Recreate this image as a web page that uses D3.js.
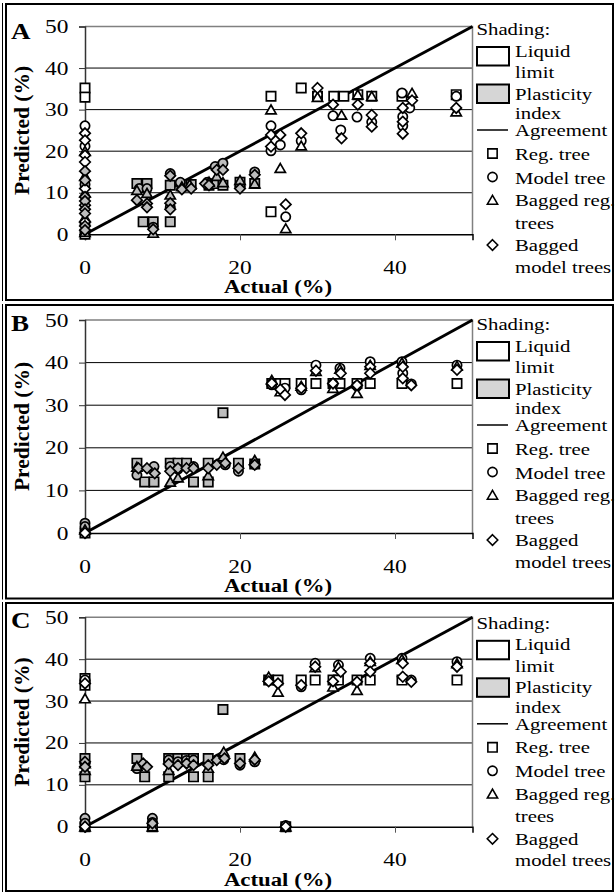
<!DOCTYPE html>
<html>
<head>
<meta charset="utf-8">
<script src="https://cdn.jsdelivr.net/npm/d3@7"></script>
<style>
  body { margin: 0; background: #fff; }
  svg { display: block; }
  text { font-family: "Liberation Serif", "Times New Roman", serif; fill: #000; }
</style>
</head>
<body>
<svg id="chart" width="616" height="894"></svg>
<script>
// rows are [actual, predicted, method]; s = reg. tree, c = model tree,
// t = bagged reg. trees, d = bagged model trees
const methods = ['s', 'c', 't', 'd'];
const xTicks = [0, 20, 40];
const yTicks = [0, 10, 20, 30, 40, 50];
const panelLabels = ['A', 'B', 'C'];
const legendText = ['Shading:', 'Liquid', 'limit', 'Plasticity', 'index', 'Agreement',
  'Reg. tree', 'Model tree', 'Bagged reg.', 'trees', 'Bagged', 'model trees'];

// panel A: liquid limit (white) and plasticity index (grey)
const llA = [
  [0, 35.2, 's'], [0, 33.0, 's'], [0, 0, 's'],
  [0, 26.1, 'c'], [0, 24.3, 'd'], [0, 22.6, 'd'], [0, 21.2, 'c'], [0, 20.0, 't'], [0, 19.0, 'd'], [0, 17.4, 'd'],
  [0, 11.0, 'd'], [0, 7.0, 'd'], [0, 3.0, 'd'],
  [24, 33.2, 's'], [24, 30, 't'], [24, 26.1, 'c'], [24, 23.9, 'd'], [24, 21.1, 'd'], [24, 20.1, 'c'], [24, 5.4, 's'],
  [25.2, 23.9, 'd'], [25.2, 21.5, 'c'], [25.2, 15.9, 't'],
  [25.9, 7.2, 'd'], [25.9, 4.2, 'c'], [25.9, 1.4, 't'],
  [27.9, 35.2, 's'], [27.9, 24.3, 'd'], [27.9, 22.5, 'c'], [27.9, 21.3, 't'],
  [30, 33.2, 's'], [30, 33.6, 'c'], [30, 33, 't'], [30, 35.2, 'd'],
  [32.1, 33.2, 's'], [33.4, 33.2, 's'], [32, 31.2, 'd'], [32, 28.5, 'c'], [33.1, 28.7, 't'], [33, 25.1, 'c'], [33.1, 23.1, 'd'],
  [35.2, 33.6, 's'], [35.2, 33.6, 't'], [35.2, 31.2, 'd'], [35.1, 28.2, 'c'],
  [37, 33.2, 's'], [37, 33.2, 't'], [37, 27, 'c'], [37, 28.7, 'd'], [37, 25.9, 'd'],
  [40.9, 34, 'c'], [40.9, 33.2, 's'], [41, 30.4, 'd'], [41, 28.3, 'c'], [41, 27.1, 'd'], [41, 26.1, 'c'], [41, 24.2, 'd'],
  [42.2, 34, 't'], [42.2, 32.2, 'd'], [41.9, 30.4, 'c'],
  [47.9, 33.6, 's'], [47.9, 33.2, 'c'], [47.9, 30.4, 'd'], [47.9, 29.5, 't']
];
const piA = [
  [0, 15.2, 'd'], [0, 14.0, 't'], [0, 13.0, 'd'], [0, 12.0, 'c'], [0, 10.0, 't'], [0, 9.0, 'd'],
  [0, 8.0, 'd'], [0, 6.0, 'd'], [0, 5.0, 'd'], [0, 4.0, 't'], [0, 2.5, 'c'], [0, 2.0, 'd'], [0, 1.0, 'd'], [0, 0.5, 't'],
  [6.7, 12.2, 's'], [6.7, 10.6, 't'], [6.7, 8.2, 'd'], [7.0, 11.0, 'c'],
  [8, 12.2, 's'], [8, 11, 'c'], [8, 7.4, 'd'], [8, 6.5, 'd'], [8, 9.9, 't'],
  [7.5, 3.0, 's'], [8.8, 3.0, 's'], [8.8, 1.7, 'c'], [8.8, 1.2, 'd'], [8.8, 0.3, 't'],
  [11, 3.0, 's'], [11, 14.6, 'c'], [11, 14.1, 'd'], [11, 11.8, 's'], [11, 9.5, 't'], [11, 7.5, 'd'], [11, 6.0, 'd'], [11, 6.5, 'c'],
  [12.5, 12, 's'], [12.5, 10.8, 'd'], [12.5, 11.5, 't'], [12.3, 12.5, 'c'],
  [13.7, 12, 's'], [13.7, 11, 'd'], [13.5, 12, 't'],
  [15.5, 12.2, 'd'], [16, 11.8, 's'], [16, 12.6, 't'], [16, 11.8, 'd'], [15.8, 12.5, 'c'],
  [16.8, 16.3, 'c'], [17, 15.5, 'd'], [17, 14, 't'], [17, 12.2, 's'],
  [17.8, 17.1, 'c'], [17.8, 15.5, 'd'], [17.8, 12.5, 't'], [17.8, 11.8, 's'],
  [20, 13, 't'], [20, 11, 'd'], [20, 12.5, 's'], [20, 11.5, 'c'],
  [21.9, 15, 'c'], [21.9, 14.3, 'd'], [21.9, 12.2, 't'], [21.9, 12.2, 's']
];

// panel B
const llB = [
  [0, 0, 'd'],
  [24.1, 35.1, 's'], [24.1, 34.8, 'c'], [24.1, 35.9, 't'], [24.1, 35.1, 'd'],
  [25.2, 35.1, 's'], [25.2, 33.2, 't'], [25.2, 33.7, 'd'],
  [25.8, 35.1, 's'], [25.8, 34, 'c'], [25.8, 32.4, 'd'],
  [27.9, 35.1, 's'], [27.9, 33.6, 'c'], [27.9, 34.5, 't'], [27.9, 34, 'd'],
  [29.8, 35.1, 's'], [29.8, 39.4, 'c'], [29.8, 38, 't'], [29.8, 38.1, 'd'],
  [32, 35.1, 's'], [32, 35, 'c'], [32, 34, 't'], [32, 35.1, 'd'],
  [32.9, 35.1, 's'], [32.9, 38.7, 'c'], [32.9, 38.5, 't'], [33, 37.5, 'd'],
  [35.1, 35.1, 's'], [35.1, 34.5, 'c'], [35.1, 32.8, 't'], [35.1, 34.7, 'd'],
  [36.8, 35.1, 's'], [36.8, 40.2, 'c'], [36.8, 39.4, 't'], [36.8, 39, 'd'], [36.8, 37.5, 'd'],
  [40.9, 35.1, 's'], [40.9, 40.2, 'c'], [41, 37.5, 'c'], [40.9, 40, 't'], [41, 39, 'd'], [41, 36.3, 'd'],
  [42.1, 35, 'c'], [42.1, 34.7, 'd'],
  [48, 35.1, 's'], [48, 39.4, 'c'], [48, 39.2, 't'], [48, 38.3, 'd']
];
const piB = [
  [0, 0, 's'], [0, 2.3, 'c'], [0, 1.5, 'c'], [0, 0.8, 't'],
  [6.7, 16.4, 's'], [6.7, 13.6, 'c'], [6.7, 15.5, 't'], [6.9, 15.2, 'd'],
  [7.7, 12, 's'], [8, 15.2, 'd'],
  [8.9, 12, 's'], [8.9, 15.6, 'c'], [9, 14, 'd'],
  [11, 16.4, 's'], [11, 15.6, 'c'], [11, 12, 't'], [11, 14.5, 'd'],
  [12, 16.4, 's'], [12, 15, 'c'], [12, 13, 't'], [12, 15.2, 'd'],
  [13.1, 16.4, 's'], [13.1, 15.2, 'd'],
  [14, 12, 's'], [14, 15.6, 'c'], [14, 15.2, 'd'],
  [15.9, 12, 's'], [15.9, 16.4, 's'], [15.9, 13.5, 't'], [15.9, 15.2, 'd'],
  [17, 16, 'd'],
  [17.8, 28.2, 's'], [17.8, 17.9, 't'], [18.1, 16, 'c'], [18.1, 16.4, 'd'],
  [19.8, 16.4, 's'], [19.8, 14.5, 'c'], [19.8, 15.2, 'd'],
  [21.9, 16.2, 's'], [21.9, 16.1, 'c'], [21.9, 17.1, 't'], [21.9, 16, 'd']
];

// panel C
const llC = [
  [0, 35.4, 's'], [0, 33.8, 's'], [0, 35, 'c'], [0, 30.6, 't'], [0, 34.2, 'd'], [0, 0, 'd'],
  [23.7, 35, 's'], [23.7, 35, 'c'], [23.7, 35.8, 't'], [23.7, 34.7, 'd'],
  [24.9, 35, 's'], [24.9, 32.2, 't'], [24.9, 34.2, 'd'],
  [25.9, 0, 's'], [25.9, 0.3, 'c'], [25.9, 0, 't'], [25.9, 0, 'd'],
  [27.9, 35, 's'], [27.9, 33.4, 'c'], [27.9, 33.8, 'd'],
  [29.7, 35, 's'], [29.7, 39, 'c'], [29.7, 38, 't'], [29.7, 38.2, 'd'],
  [32, 35, 's'], [32, 33.4, 't'], [32, 34.7, 'd'],
  [32.7, 35, 's'], [32.7, 38.6, 'c'], [32.7, 38.2, 't'], [33, 37, 'd'],
  [35.1, 35, 's'], [35.1, 32.6, 't'], [35.1, 34.6, 'd'],
  [36.8, 35, 's'], [36.8, 40.2, 'c'], [36.8, 39.5, 't'], [36.8, 39, 'd'], [36.8, 37, 'd'],
  [40.9, 35, 's'], [40.9, 40.2, 'c'], [40.9, 40, 't'], [41, 39, 'd'], [41, 35.8, 'd'],
  [42.1, 35, 'c'], [42.1, 34.6, 'd'],
  [48, 35, 's'], [48, 39.4, 'c'], [48, 39, 't'], [48, 38.2, 'd']
];
const piC = [
  [0, 16.3, 's'], [0, 11.9, 's'], [0, 0, 's'], [0, 15, 'c'], [0, 2, 'c'], [0, 0.8, 'c'],
  [0, 15.1, 't'], [0, 13.5, 't'], [0, 0, 't'], [0, 15.5, 'd'], [0, 14.3, 'd'],
  [6.7, 16.3, 's'], [6.7, 13.9, 'c'], [6.7, 14.5, 't'], [7.5, 15.1, 'd'],
  [7.7, 11.9, 's'], [8, 14.3, 'd'],
  [8.7, 0, 's'], [8.7, 2, 'c'], [8.7, 1, 'c'], [8.7, 0, 't'], [8.7, 0.8, 'd'],
  [10.8, 16.3, 's'], [10.8, 11.9, 's'], [10.8, 15.9, 'c'], [10.8, 13.5, 't'], [10.8, 15, 'd'],
  [12, 16.3, 's'], [12, 15.5, 'c'], [12, 14.7, 'd'],
  [13.1, 16.3, 's'], [13.1, 15.8, 'c'], [13.1, 15.1, 'd'],
  [14, 16.3, 's'], [14, 11.9, 's'], [14, 15.9, 'c'], [14, 14.7, 'd'],
  [15.9, 16.3, 's'], [15.9, 11.9, 's'], [15.9, 14, 't'], [15.9, 14.7, 'd'],
  [17, 15.9, 'd'],
  [17.8, 28, 's'], [17.9, 17.9, 't'], [17.9, 16, 'c'], [18, 16.3, 'd'],
  [20, 16.3, 's'], [20, 14.7, 'c'], [20, 15.1, 'd'],
  [21.9, 15.5, 'c'], [21.9, 16.7, 't'], [21.9, 16, 'd']
];

const panelData = [[llA, piA], [llB, piB], [llC, piC]];
const agreement = [[0, 0], [50, 50]];

// layout
const W = 616, H = 894;
const plotLeft = 85, plotRight = 472.5;
const panels = [
  { top: 26.5, bottom: 234.3, fTop: 4, fBottom: 300 },
  { top: 320, bottom: 533, fTop: 305, fBottom: 598.5 },
  { top: 617.3, bottom: 826.7, fTop: 603, fBottom: 891 }
];
const LL_FILL = '#ffffff', PI_FILL = '#bdbdbd';
const SX = 1.2; // text in the source image is stretched horizontally

// marker shapes as d3 symbol types (size ~ width in px)
const shapes = {
  s: { draw(ctx, s) { const r = s / 2; ctx.rect(-r, -r, s, s); } },
  c: { draw(ctx, s) { const r = s / 2; ctx.moveTo(r, 0); ctx.arc(0, 0, r, 0, 2 * Math.PI); } },
  t: { draw(ctx, s) { const r = s / 2; ctx.moveTo(0, -r); ctx.lineTo(r * 1.1, r * 0.9); ctx.lineTo(-r * 1.1, r * 0.9); ctx.closePath(); } },
  d: { draw(ctx, s) { const r = s / 2 + 0.6; ctx.moveTo(0, -r); ctx.lineTo(r, 0); ctx.lineTo(0, r); ctx.lineTo(-r, 0); ctx.closePath(); } }
};
const markerSize = 9.3;
const symbolPath = (m) => d3.symbol().type(shapes[m]).size(markerSize)();

const svg = d3.select('#chart');
svg.append('rect').attr('width', W).attr('height', H).attr('fill', '#fff');

function stext(g, x, y, str, size, opts = {}) {
  return g.append('text')
    .attr('transform', `translate(${x},${y}) scale(${opts.sx || SX},1)`)
    .attr('text-anchor', opts.anchor || 'start')
    .style('font-size', size + 'px')
    .style('font-weight', opts.bold ? 'bold' : 'normal')
    .text(str);
}

const xScale = d3.scaleLinear().domain([0, 50]).range([plotLeft, plotRight]);

panels.forEach((p, i) => {
  const g = svg.append('g');
  const yScale = d3.scaleLinear().domain([0, 50]).range([p.bottom, p.top]);

  // panel frame
  g.append('rect')
    .attr('x', 6).attr('y', p.fTop).attr('width', 607).attr('height', p.fBottom - p.fTop)
    .attr('fill', 'none').attr('stroke', '#000').attr('stroke-width', 2);
  g.append('line').attr('x1', 2.5).attr('x2', 2.5).attr('y1', p.fTop - 1).attr('y2', p.fBottom + 1)
    .attr('stroke', '#000').attr('stroke-width', 1);

  // gridlines
  g.selectAll('.grid').data(yTicks.filter(d => d > 0 && d < 50)).join('line')
    .attr('x1', plotLeft).attr('x2', plotRight)
    .attr('y1', d => yScale(d)).attr('y2', d => yScale(d))
    .attr('stroke', '#000').attr('stroke-width', 1);

  // plot area border (grey) top and right
  g.append('path')
    .attr('d', `M${plotLeft},${yScale(50)}H${plotRight}V${yScale(0)}`)
    .attr('fill', 'none').attr('stroke', '#808080').attr('stroke-width', 1.5);

  // y axis
  const yAxis = g.append('g').attr('transform', `translate(${plotLeft},0)`)
    .call(d3.axisLeft(yScale).tickValues(yTicks).tickSize(6).tickFormat(''));
  yAxis.select('.domain').attr('stroke', '#333').attr('stroke-width', 1.5);
  yAxis.selectAll('.tick line').attr('stroke', '#333');
  yTicks.forEach(v => stext(g, 68.5, yScale(v) + 6.5, String(v), 19.5, { anchor: 'end' }));

  // x axis
  const xAxis = g.append('g').attr('transform', `translate(0,${p.bottom})`)
    .call(d3.axisBottom(xScale).tickValues(xTicks).tickSize(6).tickFormat(''));
  xAxis.select('.domain').attr('stroke', '#000').attr('stroke-width', 1.5);
  xAxis.selectAll('.tick line').attr('stroke', '#555');
  xTicks.forEach(v => stext(g, xScale(v), p.bottom + 39.5, String(v), 19.5, { anchor: 'middle' }));

  // axis titles
  stext(g, 278, p.bottom + 59, 'Actual (%)', 19, { anchor: 'middle', bold: true });
  g.append('text')
    .attr('transform', `translate(29,${(p.top + p.bottom) / 2}) rotate(-90)`)
    .attr('text-anchor', 'middle')
    .style('font-size', '21.5px').style('font-weight', 'bold')
    .text('Predicted (%)');

  // panel letter
  stext(g, 11, p.top + 12 + (i === 0 ? 0 : -1.5), panelLabels[i], 23.5, { bold: true, sx: 1.15 });

  // agreement line
  g.append('path').datum(agreement)
    .attr('d', d3.line().x(d => xScale(d[0])).y(d => yScale(d[1])))
    .attr('stroke', '#000').attr('stroke-width', 3).attr('fill', 'none');

  // markers: by method, liquid limit then plasticity index
  const [ll, pi] = panelData[i];
  methods.forEach(m => {
    [[ll, LL_FILL], [pi, PI_FILL]].forEach(([rows, fill]) => {
      g.append('g').selectAll('path').data(rows.filter(r => r[2] === m)).join('path')
        .attr('transform', d => `translate(${xScale(d[0])},${yScale(d[1])})`)
        .attr('d', symbolPath(m))
        .attr('fill', fill).attr('stroke', '#000').attr('stroke-width', 1.7);
    });
  });

  // legend
  const base = p.top + 8.5 + i * 1.5;
  const off = [0, 21.5, 43, 64.5, 84, 101, 124.5, 148.5, 171, 193.5, 216, 237.5];
  const lg = g.append('g');
  stext(lg, 476.5, base, legendText[0], 17.3);
  legendText.slice(1).forEach((t, k) => stext(lg, 515, base + off[k + 1], t, 17.3));
  lg.append('rect').attr('x', 477).attr('y', base + 12).attr('width', 32).attr('height', 18.5)
    .attr('fill', LL_FILL).attr('stroke', '#000').attr('stroke-width', 2);
  lg.append('rect').attr('x', 477).attr('y', base + 49.5).attr('width', 32).attr('height', 18.5)
    .attr('fill', '#d6d6d6').attr('stroke', '#000').attr('stroke-width', 2);
  lg.append('line').attr('x1', 477).attr('x2', 508).attr('y1', base + 95).attr('y2', base + 95)
    .attr('stroke', '#000').attr('stroke-width', 1.5);
  [['s', 118.5], ['c', 142], ['t', 165], ['d', 210]].forEach(([m, dy]) => {
    lg.append('path').attr('transform', `translate(492.5,${base + dy})`)
      .attr('d', symbolPath(m)).attr('fill', '#fff').attr('stroke', '#000').attr('stroke-width', 1.6);
  });
});
</script>
</body>
</html>
